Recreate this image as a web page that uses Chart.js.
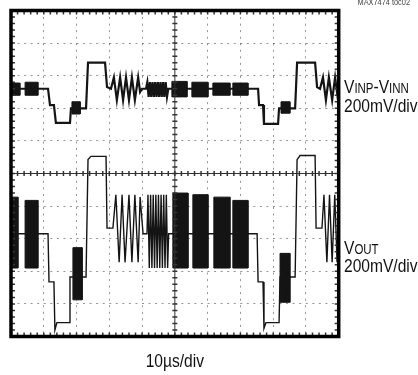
<!DOCTYPE html>
<html>
<head>
<meta charset="utf-8">
<script src="https://cdn.jsdelivr.net/npm/chart.js@4"></script>
<style>
  html, body { margin: 0; padding: 0; background: #fff; }
  canvas { display: block; }
</style>
</head>
<body>
<canvas id="scope" width="418" height="375"></canvas>
<script>
// time in µs (10µs/div), levels in mV (200mV/div)
const topTime = [0, 11.3, 11.9, 13.1, 13.7, 18.0, 18.3, 22.9, 23.5, 28.7, 29.3, 30.5,
  31.4, 32.3, 33.3, 34.2, 35.1, 36.0, 36.9, 37.8, 38.8, 39.4, 40.0,
  41.2, 41.6, 42.0, 42.4, 42.8, 43.2, 43.6, 44.0, 44.4, 44.8, 45.2, 45.6, 46.0, 46.4, 46.8, 47.2, 47.6, 48.0,
  75.4, 75.7, 76.9, 77.2, 81.5, 81.8, 86.7, 87.3, 92.8, 93.4, 94.3,
  95.2, 96.1, 97.0, 98.0, 98.9, 99.8, 100]
const topLevel = [520, 520, 420, 420, 310, 310, 400, 400, 680, 680, 530, 520,
  590, 450, 590, 450, 590, 450, 590, 450, 590, 500, 520,
  520, 560, 470, 560, 470, 560, 470, 560, 470, 560, 470, 560, 470, 560, 470, 560, 470, 520,
  520, 420, 420, 305, 305, 400, 400, 680, 680, 530, 520,
  590, 450, 590, 450, 590, 450, 500]

const outTime = [0, 11.3, 11.6, 13.1, 13.4, 14.0, 17.7, 18.0, 22.9, 23.5, 24.4, 29.0, 29.3, 31.1,
  32.0, 33.0, 33.9, 34.8, 36.0, 36.9, 37.8, 38.8, 39.4, 40.3,
  41.5, 41.8, 42.2, 42.6, 43.0, 43.4, 43.8, 44.2, 44.6, 45.0, 45.4, 45.8, 46.2, 46.6, 47.0, 47.4, 47.8, 48.1,
  75.1, 75.4, 76.9, 77.2, 77.8, 81.8, 82.1, 86.7, 87.3, 88.2, 92.8, 93.1, 94.9,
  95.5, 96.4, 97.2, 98.0, 98.8, 99.5, 100]
const outLevel = [-370, -370, -665, -665, -960, -915, -915, -635, -635, 85, 105, 105, -335, -335,
  -130, -545, -130, -545, -130, -545, -130, -545, -145, -370,
  -370, -130, -580, -130, -580, -130, -580, -130, -580, -130, -580, -130, -580, -130, -580, -130, -580, -370,
  -370, -665, -665, -950, -915, -915, -635, -635, 85, 110, 110, -335, -335,
  -130, -545, -130, -545, -130, -545, -255]

// dense bursts: [start µs, end µs, low mV, high mV]
const topBursts = [
  [0, 2.7, 480, 555],
  [4.3, 8.2, 480, 560],
  [18.6, 21.1, 365, 440],
  [49.1, 53.7, 470, 565],
  [55.2, 60.1, 470, 560],
  [61.6, 66.8, 480, 555],
  [67.7, 72.3, 480, 555],
  [82.4, 85.1, 370, 440]
]
const outBursts = [
  [0, 2.1, -580, -145],
  [4.3, 8.2, -580, -165],
  [18.9, 21.7, -775, -455],
  [49.4, 54.0, -580, -120],
  [55.5, 60.1, -580, -130],
  [61.9, 66.8, -580, -145],
  [67.7, 72.3, -580, -165],
  [82.1, 85.1, -790, -490]
]

const FONT = '"Liberation Sans", Arial, sans-serif'
const NARROW = 0.82
const INK = '#141414'

function trace(times, levels, width) {
  return {
    data: times.map((t, i) => ({ x: t, y: levels[i] })),
    borderColor: INK,
    borderWidth: width,
    pointRadius: 0,
    tension: 0,
    fill: false
  }
}

function burst(b) {
  const [t0, t1, lo, hi] = b
  return {
    data: [{ x: t0, y: hi }, { x: t1, y: hi }, { x: t1, y: lo }, { x: t0, y: lo }, { x: t0, y: hi }],
    borderColor: INK,
    backgroundColor: INK,
    borderWidth: 1,
    pointRadius: 0,
    tension: 0,
    fill: 'shape'
  }
}

// narrow text: regular face squeezed horizontally
function drawLabel(ctx, parts, x, y, align) {
  ctx.save()
  ctx.translate(x, y)
  ctx.scale(NARROW, 1)
  let total = 0
  parts.forEach(([txt, size]) => {
    ctx.font = size + 'px ' + FONT
    total += ctx.measureText(txt).width
  })
  let cx = align === 'center' ? -total / 2 : align === 'right' ? -total : 0
  ctx.textAlign = 'left'
  parts.forEach(([txt, size]) => {
    ctx.font = size + 'px ' + FONT
    ctx.fillText(txt, cx, 0)
    cx += ctx.measureText(txt).width
  })
  ctx.restore()
}

const scopeFrame = {
  id: 'scopeFrame',
  beforeDraw(chart) {
    const ctx = chart.ctx
    ctx.save()
    ctx.fillStyle = '#fff'
    ctx.fillRect(0, 0, chart.width, chart.height)
    ctx.restore()
  },
  afterDraw(chart) {
    const { ctx, chartArea: a, scales: { x, y } } = chart
    const cx = x.getPixelForValue(50)
    const cy = y.getPixelForValue(0)
    ctx.save()
    ctx.strokeStyle = '#333'
    ctx.lineWidth = 1
    ctx.beginPath()
    ctx.moveTo(cx, a.top); ctx.lineTo(cx, a.bottom)
    ctx.moveTo(a.left, cy); ctx.lineTo(a.right, cy)
    ctx.stroke()

    // minor ticks, 5 per division
    ctx.lineWidth = 1.5
    ctx.beginPath()
    for (let t = 0; t <= 100; t += 2) {
      const px = x.getPixelForValue(t)
      ctx.moveTo(px, cy - 2.5); ctx.lineTo(px, cy + 2.5)
      ctx.moveTo(px, a.top); ctx.lineTo(px, a.top + 4)
      ctx.moveTo(px, a.bottom); ctx.lineTo(px, a.bottom - 4)
    }
    for (let v = -1000; v <= 1000; v += 40) {
      const py = y.getPixelForValue(v)
      ctx.moveTo(cx - 2.5, py); ctx.lineTo(cx + 2.5, py)
      ctx.moveTo(a.left, py); ctx.lineTo(a.left + 4, py)
      ctx.moveTo(a.right, py); ctx.lineTo(a.right - 4, py)
    }
    ctx.stroke()

    ctx.strokeStyle = '#000'
    ctx.lineWidth = 3.5
    ctx.strokeRect(a.left, a.top, a.right - a.left, a.bottom - a.top)

    ctx.fillStyle = '#111'
    ctx.textBaseline = 'alphabetic'
    drawLabel(ctx, [['V', 19], ['INP', 14], ['-V', 19], ['INN', 14]], 344, 93)
    drawLabel(ctx, [['200mV/div', 19]], 344, 112)
    drawLabel(ctx, [['V', 19], ['OUT', 14]], 344, 254)
    drawLabel(ctx, [['200mV/div', 19]], 344, 272)
    drawLabel(ctx, [['10µs/div', 19]], cx, 367, 'center')

    ctx.fillStyle = '#444'
    drawLabel(ctx, [['MAX7474 toc02', 9]], 410, 5, 'right')
    ctx.restore()
  }
}

const gridColor = (c) => (c.tick && (c.tick.value === 0 || c.tick.value === 50)) ? 'rgba(0,0,0,0)' : 'rgba(0,0,0,0.42)'

new Chart(document.getElementById('scope'), {
  type: 'line',
  data: {
    datasets: [
      ...topBursts.map(burst),
      ...outBursts.map(burst),
      trace(topTime, topLevel, 2.2),
      trace(outTime, outLevel, 1.4)
    ]
  },
  options: {
    responsive: false,
    animation: false,
    devicePixelRatio: 1,
    events: [],
    layout: { padding: { left: 11, top: 10.5, right: 79.3, bottom: 38.5 } },
    plugins: { legend: { display: false }, tooltip: { enabled: false } },
    scales: {
      x: {
        type: 'linear',
        min: 0,
        max: 100,
        ticks: { display: false, stepSize: 10 },
        grid: { color: gridColor, lineWidth: 1, drawTicks: false },
        border: { display: false, dash: [2, 4.55] }
      },
      y: {
        type: 'linear',
        min: -1000,
        max: 1000,
        ticks: { display: false, stepSize: 200 },
        grid: { color: gridColor, lineWidth: 1, drawTicks: false },
        border: { display: false, dash: [2, 4.55] }
      }
    }
  },
  plugins: [scopeFrame]
})
</script>
</body>
</html>
